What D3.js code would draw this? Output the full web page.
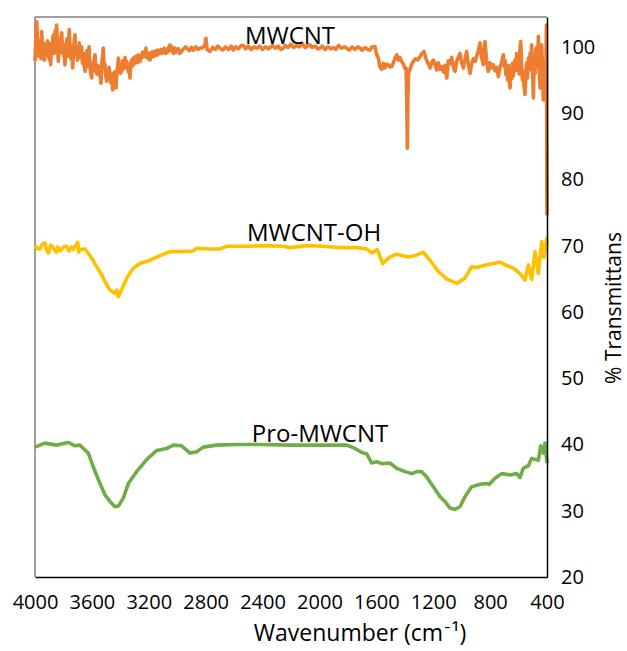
<!DOCTYPE html>
<html>
<head>
<meta charset="utf-8">
<script src="https://cdn.jsdelivr.net/npm/d3@7"></script>
<style>
  body { margin: 0; background: #fff; }
  text { font-family: "Open Sans", Carlito, Calibri, sans-serif; fill: #000; }
</style>
</head>
<body>
<div id="chart"></div>
<script>
// [wavenumber (cm-1), % transmittance]
var mwcnt = [
  [4000,97.8],[3994,101.5],[3988,103.8],[3982,100.5],[3976,98.6],[3970,99.3],[3964,101.0],[3958,98.2],[3953,102.3],[3946,99.5],
  [3940,100.6],[3935,98.0],[3930,98.5],[3924,100.2],[3918,98.8],[3912,100.9],[3906,99.8],[3900,98.1],[3895,100.4],[3890,97.3],
  [3884,99.6],[3878,100.8],[3871,101.8],[3865,99.0],[3858,102.4],[3853,100.2],[3848,103.3],[3842,100.1],[3836,97.8],[3830,100.6],
  [3824,99.2],[3818,101.4],[3812,102.1],[3806,99.0],[3800,100.3],[3794,98.4],[3789,97.3],[3783,99.9],[3776,101.2],[3770,98.6],
  [3765,100.4],[3759,102.6],[3753,99.7],[3747,98.2],[3741,100.0],[3735,96.8],[3729,99.5],[3724,101.0],[3719,101.8],[3713,98.9],
  [3707,99.8],[3701,98.0],[3695,98.5],[3689,100.6],[3683,99.1],[3677,98.4],[3672,100.0],[3666,97.5],[3660,99.0],[3654,97.2],
  [3648,96.3],[3642,98.7],[3636,99.4],[3630,97.0],[3625,98.8],[3620,100.0],[3614,97.1],[3608,96.0],[3601,95.3],[3595,97.5],
  [3590,96.4],[3584,98.2],[3578,98.8],[3572,96.6],[3566,95.9],[3560,97.2],[3555,95.8],[3549,97.0],[3543,96.1],[3536,94.5],
  [3530,97.6],[3525,98.6],[3520,99.8],[3514,96.8],[3508,97.4],[3502,95.6],[3496,94.8],[3490,96.5],[3484,95.2],[3479,96.9],
  [3473,95.8],[3467,94.6],[3461,95.9],[3454,93.5],[3448,95.4],[3442,96.2],[3436,95.0],[3430,93.8],[3424,96.4],[3419,97.0],
  [3414,98.3],[3408,96.2],[3402,97.4],[3397,96.0],[3391,96.8],[3385,97.9],[3379,96.6],[3373,97.5],[3367,98.4],[3361,96.9],
  [3355,97.8],[3349,97.0],[3343,96.2],[3338,97.3],[3332,95.3],[3326,97.6],[3320,98.0],[3314,97.1],[3309,98.3],[3303,97.4],
  [3297,98.5],[3291,97.9],[3285,98.6],[3279,97.6],[3273,98.8],[3268,98.0],[3262,97.8],[3256,98.7],[3250,98.3],[3244,99.2],
  [3238,98.5],[3232,99.0],[3226,98.6],[3220,99.8],[3214,98.4],[3208,99.1],[3203,98.2],[3197,99.0],[3191,98.0],[3185,99.1],
  [3179,98.6],[3173,99.3],[3167,98.5],[3162,99.0],[3156,98.8],[3150,99.4],[3144,98.7],[3138,99.5],[3132,98.9],[3127,99.2],
  [3121,99.0],[3115,99.6],[3109,99.0],[3103,99.4],[3097,99.1],[3092,99.8],[3086,99.3],[3080,99.0],[3074,99.6],[3068,99.2],
  [3062,99.9],[3056,99.4],[3051,100.3],[3045,99.5],[3039,100.0],[3033,99.4],[3027,99.0],[3021,99.5],[3015,99.8],[3010,99.2],
  [3004,99.6],[2998,99.3],[2992,99.7],[2986,99.1],[2980,99.0],[2960,99.6],[2940,100.0],[2933,99.8],[2915,99.4],[2900,99.9],
  [2887,99.5],[2870,100.0],[2855,99.6],[2840,99.8],[2820,99.9],[2805,100.3],[2798,101.3],[2790,99.6],[2770,99.3],[2750,99.9],
  [2730,99.6],[2715,100.1],[2699,99.8],[2680,99.5],[2660,100.0],[2640,99.6],[2620,100.1],[2606,99.5],[2590,100.0],[2570,99.7],
  [2550,100.2],[2535,100.2],[2520,99.7],[2500,100.1],[2480,99.6],[2460,100.0],[2441,99.8],[2420,100.1],[2400,99.6],[2380,100.0],
  [2360,99.7],[2348,99.9],[2330,100.2],[2310,99.8],[2290,100.1],[2270,99.6],[2254,99.8],[2240,100.2],[2220,99.9],[2200,100.4],
  [2180,99.9],[2160,100.2],[2140,100.0],[2120,100.5],[2100,99.9],[2080,100.2],[2066,100.3],[2050,99.9],[2030,100.1],[2010,99.7],
  [1996,99.8],[1980,100.1],[1960,99.6],[1940,100.0],[1920,99.7],[1902,99.9],[1885,99.6],[1865,100.2],[1845,99.8],[1825,100.0],
  [1808,99.8],[1790,99.5],[1770,100.0],[1750,99.6],[1730,100.0],[1715,99.8],[1700,99.5],[1680,99.9],[1660,99.6],[1645,99.5],
  [1630,100.0],[1609,100.0],[1600,99.0],[1586,98.3],[1575,97.0],[1562,96.6],[1550,97.5],[1540,96.8],[1528,97.4],[1516,97.3],
  [1504,97.0],[1492,97.0],[1480,97.6],[1468,98.3],[1457,98.8],[1445,98.0],[1434,98.4],[1422,97.8],[1410,97.4],[1400,96.8],
  [1391,96.8],[1386,92.0],[1382,84.7],[1378,92.5],[1372,96.5],[1368,96.3],[1355,97.2],[1340,97.8],[1325,98.2],[1310,98.0],
  [1293,98.5],[1280,99.0],[1265,99.3],[1250,98.2],[1240,97.6],[1234,97.5],[1222,96.8],[1211,97.6],[1199,98.0],[1188,97.4],
  [1176,96.5],[1164,97.6],[1152,96.6],[1140,97.0],[1128,96.2],[1117,97.2],[1105,95.3],[1094,97.9],[1082,97.5],[1070,98.4],
  [1059,97.0],[1047,96.3],[1035,97.8],[1024,98.4],[1012,99.0],[1000,97.6],[988,96.8],[977,98.0],[965,99.3],[953,97.4],
  [941,96.0],[930,97.4],[918,98.2],[906,97.8],[894,98.6],[882,99.5],[871,100.6],[860,98.4],[848,97.3],[842,99.6],
  [836,100.8],[825,97.9],[813,96.3],[801,97.6],[790,96.8],[778,97.3],[766,96.4],[754,96.9],[742,95.5],[730,97.0],
  [719,97.6],[713,98.3],[707,98.8],[701,97.0],[695,97.9],[689,95.8],[683,96.8],[677,95.0],[671,97.2],[666,94.9],
  [660,93.8],[654,96.0],[648,95.2],[643,97.5],[637,95.6],[632,96.8],[626,98.0],[620,96.4],[614,99.0],[608,97.6],
  [602,98.8],[596,95.9],[590,99.6],[585,100.8],[579,97.5],[573,95.0],[567,96.3],[561,94.0],[555,92.8],[549,95.9],
  [543,97.6],[537,95.3],[531,98.3],[525,96.5],[519,99.0],[514,97.2],[508,100.3],[502,96.4],[496,92.3],[490,97.8],
  [484,96.0],[478,99.8],[472,99.3],[466,97.0],[461,101.6],[455,96.5],[449,93.8],[443,98.6],[437,100.3],[432,96.8],
  [426,92.0],[411,92.0],[404,103.3],[400,74.6]
];

var mwcntOH = [
  [4000,70.0],[3985,69.6],[3965,69.5],[3950,70.2],[3930,70.4],[3918,69.3],[3906,68.9],[3890,70.1],[3871,69.7],[3850,69.0],
  [3840,69.8],[3824,69.2],[3800,69.8],[3777,69.9],[3760,69.2],[3745,69.8],[3730,69.4],[3715,70.0],[3700,70.5],[3692,69.0],
  [3684,69.4],[3648,69.5],[3601,68.1],[3566,66.8],[3531,65.6],[3508,64.6],[3473,63.3],[3438,62.8],[3425,63.3],[3414,62.3],
  [3391,63.3],[3355,65.1],[3309,66.6],[3262,67.3],[3191,67.8],[3121,68.5],[3051,69.1],[2980,69.1],[2887,69.2],[2863,69.6],
  [2770,69.5],[2699,69.5],[2652,69.9],[2512,69.9],[2395,70.0],[2254,69.9],[2207,69.7],[2090,70.0],[1973,69.9],[1855,69.7],
  [1738,69.7],[1668,69.5],[1633,68.9],[1593,69.4],[1555,67.3],[1504,68.3],[1457,68.7],[1375,68.3],[1328,68.5],[1270,69.0],
  [1223,67.8],[1164,66.1],[1105,65.0],[1035,64.3],[977,65.1],[930,66.8],[894,66.7],[824,67.1],[730,67.5],[683,67.0],
  [637,66.6],[590,65.8],[555,64.8],[531,67.1],[508,64.9],[484,69.1],[461,65.8],[437,70.6],[421,68.2],[402,71.1],[400,70.0]
];

var proMWCNT = [
  [4000,39.6],[3930,40.2],[3848,39.9],[3766,40.3],[3719,39.8],[3684,39.9],[3660,39.4],[3625,38.7],[3590,36.6],[3543,34.1],
  [3508,32.4],[3473,31.4],[3438,30.6],[3414,30.7],[3379,31.9],[3344,34.1],[3285,35.9],[3215,37.7],[3144,39.1],[3074,39.4],
  [3027,39.9],[2969,39.8],[2910,38.7],[2863,38.9],[2817,39.6],[2723,39.9],[2582,40.0],[2397,40.0],[2207,39.9],[1808,39.9],
  [1750,39.4],[1703,38.8],[1668,38.6],[1633,37.2],[1597,37.4],[1562,37.1],[1504,37.2],[1457,36.4],[1398,35.9],[1351,35.6],
  [1316,35.9],[1281,35.9],[1246,35.1],[1199,33.6],[1152,32.1],[1117,31.4],[1082,30.4],[1047,30.2],[1012,30.6],[977,32.1],
  [930,33.6],[871,34.0],[824,34.1],[805,34.0],[766,34.9],[719,35.6],[660,35.4],[613,35.6],[590,35.0],[567,36.4],
  [531,36.8],[508,37.9],[461,37.6],[444,39.8],[426,38.7],[414,40.2],[400,37.2]
];

var yTicks = [20, 30, 40, 50, 60, 70, 80, 90, 100];
var xTicks = [4000, 3600, 3200, 2800, 2400, 2000, 1600, 1200, 800, 400];

var series = [
  { name: "MWCNT", data: mwcnt, color: "#ED7D31", sw: 3.6 },
  { name: "MWCNT-OH", data: mwcntOH, color: "#FFC000", sw: 3.6 },
  { name: "Pro-MWCNT", data: proMWCNT, color: "#70AD47", sw: 3.6 }
];

var W = 627, H = 651;
var margin = { top: 17, right: 80, bottom: 74, left: 35 };
var width = W - margin.left - margin.right;
var height = H - margin.top - margin.bottom;

var svg = d3.select("#chart").append("svg")
  .attr("width", W)
  .attr("height", H);

var g = svg.append("g")
  .attr("transform", "translate(" + margin.left + "," + margin.top + ")");

var x = d3.scaleLinear().domain([4000, 400]).range([0, width]);
var y = d3.scaleLinear().domain([20, 104.5]).range([height, 0]);

// plot frame (top/left light)
g.append("line").attr("x1", 0).attr("x2", width).attr("y1", 0).attr("y2", 0)
  .attr("stroke", "#7f7f7f").attr("stroke-width", 1.5);
g.append("line").attr("x1", 0).attr("x2", 0).attr("y1", 0).attr("y2", height)
  .attr("stroke", "#7f7f7f").attr("stroke-width", 1.5);

var line = d3.line()
  .x(function(d) { return x(d[0]); })
  .y(function(d) { return y(d[1]); });

series.forEach(function(s) {
  g.append("path")
    .datum(s.data)
    .attr("fill", "none")
    .attr("stroke", s.color)
    .attr("stroke-width", s.sw)
    .attr("stroke-linejoin", "round")
    .attr("d", line);
});

// axes
var xAxis = g.append("g")
  .attr("transform", "translate(0," + height + ")")
  .call(d3.axisBottom(x).tickValues(xTicks).tickSize(0).tickPadding(18).tickFormat(d3.format("d")));
xAxis.select(".domain").attr("stroke", "#000").attr("stroke-width", 1.5);
xAxis.selectAll("text").style("font-size", "20px")
  .style("font-family", "'Open Sans', Carlito, Calibri, sans-serif");

var yAxis = g.append("g")
  .attr("transform", "translate(" + width + ",0)")
  .call(d3.axisRight(y).tickValues(yTicks).tickSize(0).tickPadding(14));
yAxis.select(".domain").attr("stroke", "#000").attr("stroke-width", 1.5);
yAxis.selectAll("text").style("font-size", "20px")
  .style("font-family", "'Open Sans', Carlito, Calibri, sans-serif");

// series labels
var labels = [
  { text: "MWCNT", wn: 2207, t: 100.4 },
  { text: "MWCNT-OH", wn: 2038, t: 70.7 },
  { text: "Pro-MWCNT", wn: 1996, t: 40.4 }
];
labels.forEach(function(l) {
  g.append("text")
    .attr("x", x(l.wn))
    .attr("y", y(l.t))
    .attr("text-anchor", "middle")
    .style("font-size", "24px")
    .text(l.text);
});

// axis titles
svg.append("text")
  .attr("x", 360)
  .attr("y", 641)
  .attr("text-anchor", "middle")
  .style("font-size", "23px")
  .text("Wavenumber (cm\u207B\u00B9)");

svg.append("text")
  .attr("transform", "translate(621," + 308 + ") rotate(-90)")
  .attr("text-anchor", "middle")
  .style("font-size", "21px")
  .text("% Transmittans");
</script>
</body>
</html>
